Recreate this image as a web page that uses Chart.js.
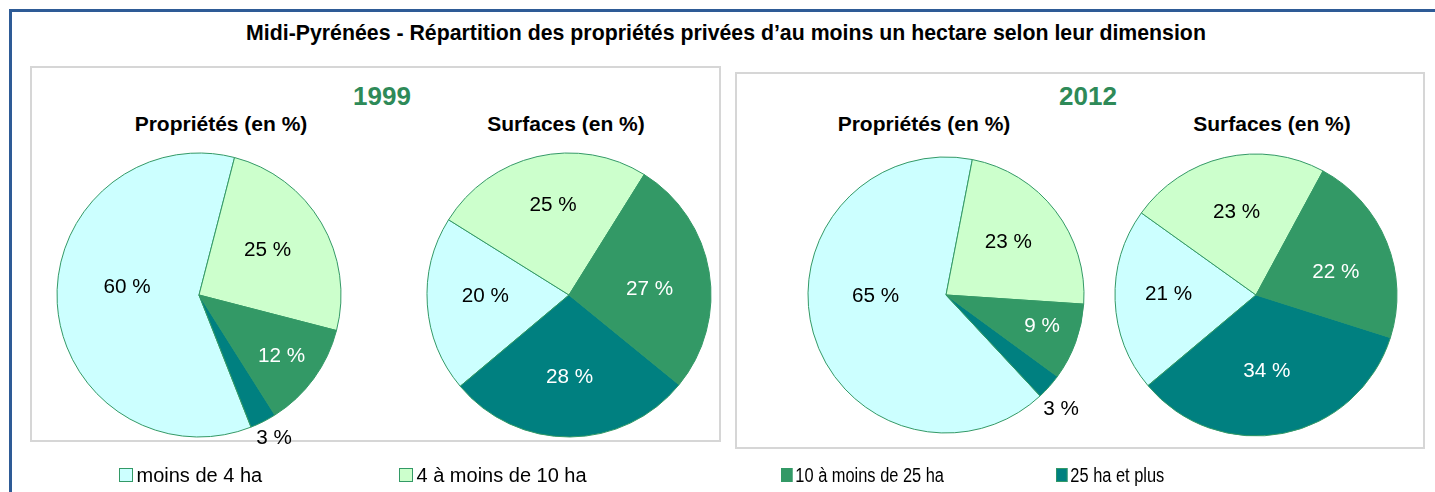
<!DOCTYPE html>
<html><head><meta charset="utf-8">
<script src="https://cdn.jsdelivr.net/npm/chart.js@4.4.1/dist/chart.umd.min.js"></script>
<style>
html,body{margin:0;padding:0;background:#fff;}
body{width:1435px;height:492px;overflow:hidden;position:relative;font-family:"Liberation Sans",Arial,sans-serif;color:#000;}
.abs{position:absolute;}
.ctr{position:absolute;transform:translate(-50%,-50%);line-height:1;white-space:nowrap;}
canvas{position:absolute;}
.leg{position:absolute;transform-origin:0 50%;white-space:nowrap;}
.leg .box{position:absolute;left:0;top:0;width:12px;height:12px;border:1px solid #339966;}
.leg .lt{position:absolute;left:17.5px;top:7px;transform:translateY(-50%);font-size:20px;line-height:1;}
</style></head><body>
<div class="abs" style="left:9px;top:9px;width:1500px;height:600px;border:3px solid #2E5B96;border-right:none;"></div>
<div class="abs" style="left:30px;top:66px;width:687px;height:372px;border:2px solid #d6d6d6;"></div>
<div class="abs" style="left:735px;top:72px;width:686px;height:373px;border:2px solid #d6d6d6;"></div>
<div id="title" class="ctr" style="left:726px;top:34px;font-size:21.3px;font-weight:bold;"></div>
<div id="y0" class="ctr" style="left:382px;top:96px;font-size:26px;font-weight:bold;color:#2E8A58;"></div>
<div id="y1" class="ctr" style="left:1088px;top:96px;font-size:26px;font-weight:bold;color:#2E8A58;"></div>
<div id="s0" class="ctr" style="left:221px;top:123px;font-size:21px;font-weight:bold;"></div>
<div id="s1" class="ctr" style="left:566px;top:123px;font-size:21px;font-weight:bold;"></div>
<div id="s2" class="ctr" style="left:924px;top:123px;font-size:21px;font-weight:bold;"></div>
<div id="s3" class="ctr" style="left:1272px;top:123px;font-size:21px;font-weight:bold;"></div>
<canvas id="c0" width="340" height="340" style="left:29px;top:125px"></canvas>
<canvas id="c1" width="340" height="340" style="left:399px;top:125px"></canvas>
<canvas id="c2" width="340" height="340" style="left:776px;top:125px"></canvas>
<canvas id="c3" width="340" height="340" style="left:1086px;top:125px"></canvas>
<div id="legend"></div>
<script>
// ---- data ----
const chartTitle = 'Midi-Pyrénées - Répartition des propriétés privées d’au moins un hectare selon leur dimension';
const years = ['1999', '2012'];
const subTitles = ['Propriétés (en %)', 'Surfaces (en %)'];
const categories = ['moins de 4 ha', '4 à moins de 10 ha', '10 à moins de 25 ha', '25 ha et plus'];
const proprietes1999 = [60, 25, 12, 3];
const surfaces1999 = [20, 25, 27, 28];
const proprietes2012 = [65, 23, 9, 3];
const surfaces2012 = [21, 23, 22, 34];

// ---- styles / layout ----
const sliceColors = ['#CCFFFF', '#CCFFCC', '#339966', '#008080'];
const labelColors = ['#000000', '#000000', '#FFFFFF', '#FFFFFF'];
const legendLeft = [119, 399, 781, 1056];
const legendScale = [1, 1, 0.82, 0.82];

document.getElementById('title').textContent = chartTitle;
document.getElementById('y0').textContent = years[0];
document.getElementById('y1').textContent = years[1];
['s0','s1','s2','s3'].forEach((id, i) => document.getElementById(id).textContent = subTitles[i % 2]);

const leg = document.getElementById('legend');
categories.forEach((c, i) => {
  const d = document.createElement('div');
  d.className = 'leg';
  d.style.left = legendLeft[i] + 'px';
  d.style.top = '468px';
  d.style.transform = 'scaleX(' + legendScale[i] + ')';
  const b = document.createElement('div'); b.className = 'box'; b.style.background = sliceColors[i];
  const t = document.createElement('div'); t.className = 'lt'; t.textContent = c;
  d.appendChild(b); d.appendChild(t); leg.appendChild(d);
});

const sliceLabels = {
  id: 'sliceLabels',
  afterDatasetsDraw(chart, args, opts) {
    const ctx = chart.ctx;
    const meta = chart.getDatasetMeta(0);
    const ds = chart.data.datasets[0];
    ctx.save();
    ctx.font = '20.7px "Liberation Sans", Arial, sans-serif';
    ctx.textAlign = 'center';
    ctx.textBaseline = 'middle';
    meta.data.forEach((arc, i) => {
      const p = arc.getProps(['x', 'y', 'startAngle', 'endAngle', 'outerRadius'], true);
      const pl = opts.place[i];
      const a = (p.startAngle + p.endAngle) / 2 + pl[1] * Math.PI / 180;
      const r = p.outerRadius * pl[0];
      ctx.fillStyle = pl[0] > 1 ? '#000000' : labelColors[i];
      ctx.fillText(ds.data[i] + ' %', p.x + Math.cos(a) * r, p.y + Math.sin(a) * r + 1);
    });
    ctx.restore();
  }
};

function makePie(id, values, rotation, radius, place) {
  new Chart(document.getElementById(id), {
    type: 'pie',
    data: {
      labels: categories,
      datasets: [{ data: values, backgroundColor: sliceColors, borderColor: '#339966', borderWidth: 1 }]
    },
    options: {
      responsive: false,
      animation: false,
      events: [],
      rotation: rotation,
      radius: radius,
      layout: { padding: 0 },
      plugins: {
        legend: { display: false },
        tooltip: { enabled: false },
        sliceLabels: { place: place }
      }
    },
    plugins: [sliceLabels]
  });
}

makePie('c0', proprietes1999, 158.5, 142, [[0.51, 10.5], [0.58, -3], [0.72, 0], [1.13, -1]]);
makePie('c1', surfaces1999, 230, 142, [[0.59, 4], [0.65, 3], [0.57, 4.5], [0.57, 0]]);
makePie('c2', proprietes2012, 137, 138, [[0.51, 16], [0.595, -3], [0.73, -2.5], [1.17, 3]]);
makePie('c3', surfaces2012, 230, 141, [[0.62, 3], [0.61, 0], [0.59, 5.5], [0.54, 3]]);
</script>
</body></html>
